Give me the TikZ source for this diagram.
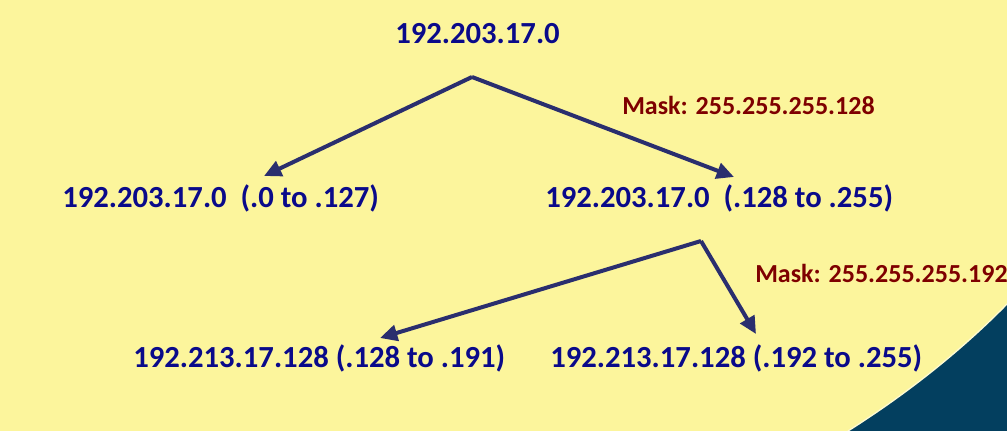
\documentclass[tikz,border=0pt]{standalone}
\usepackage{fontspec}
\setmainfont{Carlito}
\usetikzlibrary{arrows.meta}

\definecolor{bgyellow}{HTML}{FCF59C}
\definecolor{ipblue}{HTML}{0A0A8A}
\definecolor{masked}{HTML}{7E0000}
\definecolor{arrownavy}{HTML}{2A2E6E}
\definecolor{cornerblue}{HTML}{033F5F}

\tikzset{
    ip/.style={inner sep=0pt, anchor=base west, text=ipblue, font=\fontsize{23}{27}\selectfont\bfseries},
    mask/.style={inner sep=0pt, anchor=base west, text=masked, font=\fontsize{19.5}{23}\selectfont\bfseries},
    split/.style={arrownavy, line width=3pt, line join=miter, -{Triangle[length=13pt,width=12pt]}},
}

\begin{document}
\begin{tikzpicture}[x=0.75pt, y=-0.75pt]
        \fill[bgyellow] (0,0) rectangle (1007,431);
        \useasboundingbox (0,0) rectangle (1007,431);
        % corner
        \fill[cornerblue] (848,431) .. controls (905,395) and (960,352) .. (1007,304) -- (1007,431) -- cycle;
        \draw[white!55!bgyellow, line width=1pt] (848,431) .. controls (905,395) and (960,352) .. (1007,304);

        \node[ip] (root) at (395,44) {192.203.17.0};
        \node[ip] (s1) at (62,207.5) {192.203.17.0~ (.0 to .127)};
        \node[ip] (s2) at (545,207.5) {192.203.17.0~ (.128 to .255)};
        \node[ip] (s21) at (133,367) {192.213.17.128 (.128 to .191)};
        \node[ip] (s22) at (550,367) {192.213.17.128 (.192 to .255)};
        \node[mask] (m1) at (622,115) {Mask: 255.255.255.128};
        \node[mask] (m2) at (755,282) {Mask: 255.255.255.192};

        \coordinate (a) at (472,77);
        \coordinate (b) at (701,241);
        \coordinate (t1) at (264,176);
        \coordinate (t2) at (734,177);
        \coordinate (t21) at (380,338);
        \coordinate (t22) at (756,334);

        \draw[split] (a) -- (t1);
        \draw[split] (a) -- (t2);
        \draw[split] (b) -- (t21);
        \draw[split] (b) -- (t22);
\end{tikzpicture}
\end{document}
